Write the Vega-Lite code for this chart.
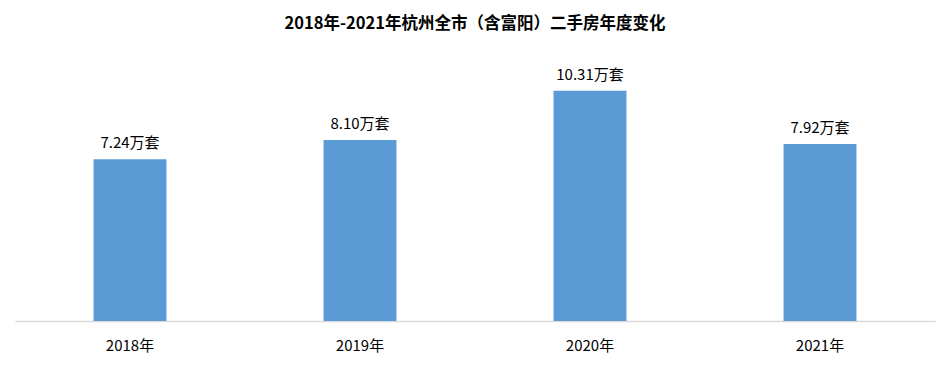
{
  "$schema": "https://vega.github.io/schema/vega-lite/v6.json",
  "width": 920,
  "height": 268,
  "autosize": "none",
  "padding": {"left": 15, "top": 53, "right": 16, "bottom": 46},
  "background": "white",
  "title": {
    "text": "2018年-2021年杭州全市（含富阳）二手房年度变化",
    "font": "Noto Sans CJK SC",
    "fontSize": 16.5,
    "fontWeight": "bold",
    "color": "#000000",
    "anchor": "middle",
    "offset": 21
  },
  "data": {
    "values": [
      {"year": "2018年", "value": 7.24, "label": "7.24万套"},
      {"year": "2019年", "value": 8.10, "label": "8.10万套"},
      {"year": "2020年", "value": 10.31, "label": "10.31万套"},
      {"year": "2021年", "value": 7.92, "label": "7.92万套"}
    ]
  },
  "config": {"view": {"stroke": null}},
  "encoding": {
    "x": {
      "field": "year",
      "type": "nominal",
      "sort": null,
      "scale": {"paddingInner": 0.683, "paddingOuter": 0.3415},
      "axis": {
        "title": null,
        "labelAngle": 0,
        "labelFont": "Noto Sans CJK SC",
        "labelFontSize": 15,
        "labelColor": "#000000",
        "labelPadding": 17,
        "ticks": false,
        "domainColor": "#D9D9D9",
        "domainWidth": 1.5,
        "grid": false
      }
    },
    "y": {
      "field": "value",
      "type": "quantitative",
      "scale": {"domain": [0, 12], "nice": false},
      "axis": null
    }
  },
  "layer": [
    {"mark": {"type": "bar", "color": "#5B9BD5"}},
    {
      "mark": {
        "type": "text",
        "dy": -16,
        "font": "Noto Sans CJK SC",
        "fontSize": 15,
        "color": "#000000"
      },
      "encoding": {"text": {"field": "label"}}
    }
  ]
}
